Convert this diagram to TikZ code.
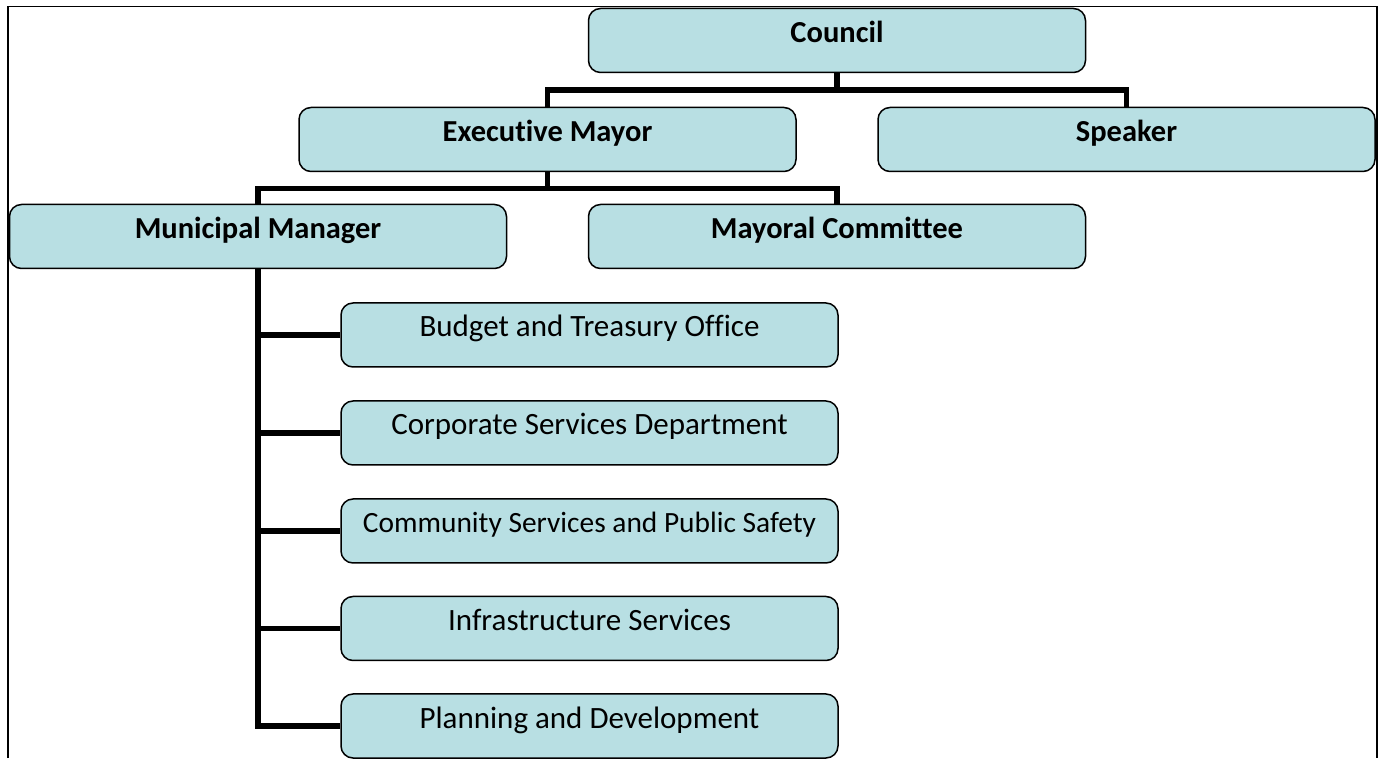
\documentclass[tikz,border=0pt]{standalone}
\usepackage{fontspec}
\setmainfont{Carlito}[Ligatures=NoCommon]
\begin{document}
\begin{tikzpicture}[x=1pt,y=1pt,
  unit/.style={draw=black,fill=boxColor,line width=1.5pt,rounded corners=12pt,
    minimum width=497pt,minimum height=64pt,inner sep=0pt,
    text height=20pt,text depth=16pt,font=\fontsize{31}{33}\selectfont},
  head/.style={unit,font=\fontsize{30.5}{33}\selectfont\bfseries},
  bus/.style={draw=black,line width=5.5pt}]
\definecolor{boxColor}{RGB}{184,223,227}
\path[use as bounding box] (0,0) rectangle (1382,758);

% outer frame, open at the foot
\path[draw=black,line width=1.8pt] (8,0) -- (8,751.5) -- (1377,751.5) -- (1377,0);

% top levels
\node[head] (council) at (837,717.5) {Council};
\node[head] (mayor) at (547.5,618.5) {Executive Mayor};
\node[head] (speaker) at (1126.5,618.5) {Speaker};
\node[head] (manager) at (258,521.5) {Municipal Manager};
\node[head] (committee) at (837,521.5) {Mayoral Committee};

% departments
\node[unit] (budget) at (589.5,423) {Budget and Treasury Office};
\node[unit] (corporate) at (589.5,325) {Corporate Services Department};
\node[unit,font=\fontsize{29.4}{31}\selectfont] (community) at (589.5,227) {Community Services and Public Safety};
\node[unit] (infra) at (589.5,129.5) {Infrastructure Services};
\node[unit] (planning) at (589.5,32) {Planning and Development};

\draw[bus] (council.south) -- ++(0,-17) -| (mayor.north);
\draw[bus] (council.south) -- ++(0,-17) -| (speaker.north);
\draw[bus] (mayor.south) -- ++(0,-16.5) -| (manager.north);
\draw[bus] (mayor.south) -- ++(0,-16.5) -| (committee.north);

\foreach \dept in {budget,corporate,community,infra,planning}
  \draw[bus] (manager.south) |- (\dept.west);
\end{tikzpicture}
\end{document}
